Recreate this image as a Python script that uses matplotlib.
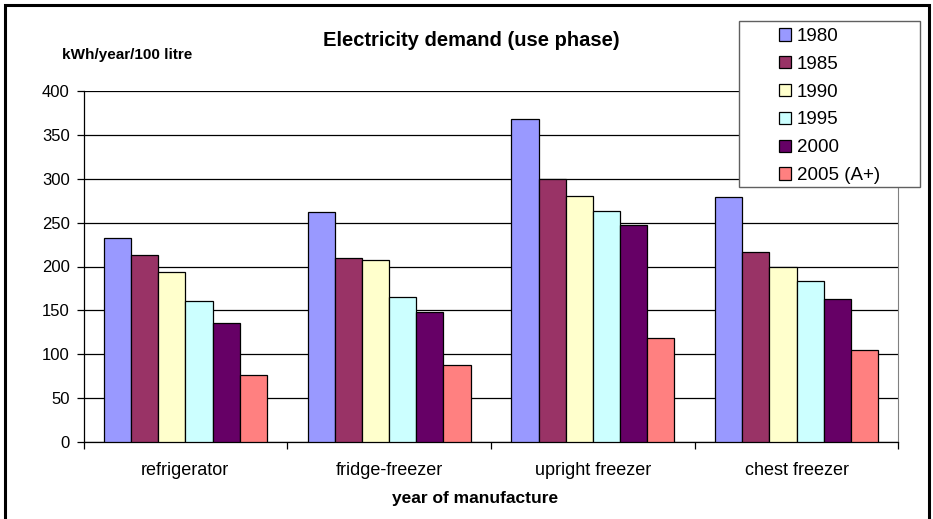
import numpy as np
import matplotlib.pyplot as plt
from matplotlib.patches import Rectangle, Patch

plt.rcParams['font.family'] = ['Liberation Sans', 'DejaVu Sans']

appliances = ["refrigerator", "fridge-freezer", "upright freezer", "chest freezer"]
years = ["1980", "1985", "1990", "1995", "2000", "2005 (A+)"]
colors = ["#9999FF", "#993366", "#FFFFCC", "#CCFFFF", "#660066", "#FF8080"]

# kWh/year/100 litre per appliance type, one list per year of manufacture
d1980 = [232, 262, 369, 279]
d1985 = [213, 210, 300, 216]
d1990 = [194, 207, 280, 200]
d1995 = [161, 165, 263, 184]
d2000 = [135, 148, 247, 163]
d2005 = [76, 87, 118, 105]
series = [d1980, d1985, d1990, d1995, d2000, d2005]

fig = plt.figure(figsize=(9.33, 5.19), dpi=100)
ax = fig.add_axes([83.5 / 933, 1 - 441.5 / 519, 815 / 933, 350 / 519])

x = np.arange(len(appliances))
w = 0.8 / len(years)
for i, vals in enumerate(series):
    ax.bar(x - 0.4 + w * (i + 0.5), vals, width=w, color=colors[i],
           edgecolor="black", linewidth=0.9, zorder=3)

ax.set_xlim(-0.5, 3.5)
ax.set_ylim(0, 400)
ax.set_yticks(range(0, 401, 50))
ax.yaxis.grid(True, color="black", linewidth=0.9, zorder=0)
ax.set_axisbelow(True)
ax.set_xticks(np.arange(-0.5, 4, 1))
ax.set_xticklabels([])
ax.set_xticks(x, minor=True)
ax.set_xticklabels(appliances, minor=True, fontsize=13)
ax.tick_params(axis="x", which="minor", length=0, pad=15)
ax.tick_params(axis="x", which="major", length=5, width=0.9, direction="out")
ax.tick_params(axis="y", length=5, width=0.9, labelsize=12, pad=5)
ax.spines["top"].set_visible(False)
ax.spines["right"].set_color("#808080")
ax.spines["left"].set_linewidth(0.9)
ax.spines["bottom"].set_linewidth(0.9)

fig.text(471 / 933, 1 - 40 / 519, "Electricity demand (use phase)",
         ha="center", va="center", fontsize=14.5, fontweight="bold")
fig.text(62 / 933, 1 - 55 / 519, "kWh/year/100 litre",
         ha="left", va="center", fontsize=11, fontweight="bold")
fig.text(475 / 933, 1 - 499 / 519, "year of manufacture",
         ha="center", va="center", fontsize=12.5, fontweight="bold")

# legend frame drawn separately so the padding can differ per side
fig.patches.append(Rectangle((739 / 933, 1 - 187 / 519), 181 / 933, 166 / 519,
                             transform=fig.transFigure, facecolor="white",
                             edgecolor="#606060", linewidth=1, zorder=4))
handles = [Patch(facecolor=c, edgecolor="black", linewidth=0.9) for c in colors]
fig.legend(handles, years, loc="upper left",
           bbox_to_anchor=(777 / 933, 1 - 26 / 519), frameon=False,
           fontsize=13.5, handlelength=0.65, handleheight=0.65, handletextpad=0.3,
           labelspacing=0.58, borderpad=0.1, borderaxespad=0)

# outer chart border
fig.patches.append(Rectangle((5 / 933, -0.02), 924 / 933, 1 - 5 / 519 + 0.02,
                             transform=fig.transFigure, fill=False,
                             edgecolor="black", linewidth=2.2, zorder=5))

fig.savefig("out.png", dpi=100)
